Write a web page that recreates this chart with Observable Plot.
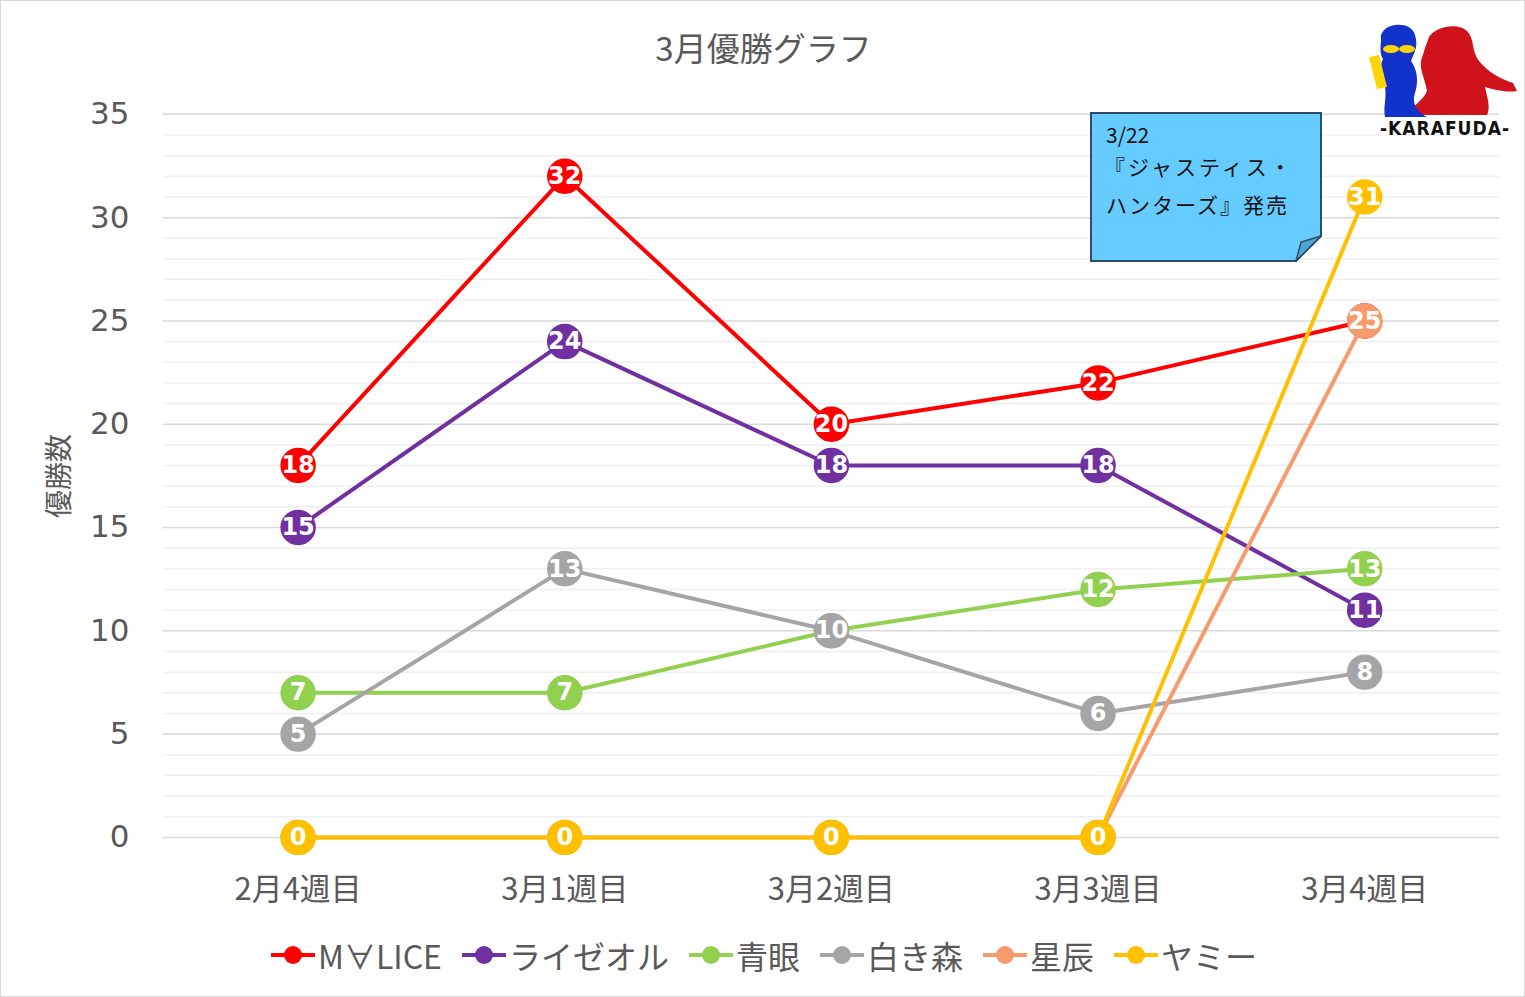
<!DOCTYPE html>
<html>
<head>
<meta charset="utf-8">
<script src="https://cdn.jsdelivr.net/npm/d3@7"></script>
<script src="https://cdn.jsdelivr.net/npm/@observablehq/plot@0.6"></script>
<style>
  html, body { margin: 0; padding: 0; background: #fff; }
  #wrap { position: relative; width: 1525px; height: 997px; box-sizing: border-box; border: 1px solid #d9d9d9; overflow: hidden; font-family: "Noto Sans CJK JP", "DejaVu Sans", sans-serif; color: #595959; }
  #chart { position: absolute; left: 0px; top: -1px; }
  #title { position: absolute; left: 0; width: 1525px; top: 22px; text-align: center; font-size: 33px; color: #595959; }
  #ylabel { position: absolute; left: 56px; top: 475px; transform: translate(-50%, -50%) rotate(-90deg); font-size: 28px; white-space: nowrap; }
  #legend { position: absolute; left: 0; width: 1525px; top: 931px; display: flex; justify-content: center; gap: 19px; font-size: 32px; }
  .li { display: flex; align-items: center; gap: 2px; }
  .li svg { display: block; }
  #note { position: absolute; left: 1089px; top: 111px; width: 232px; height: 150px; }
  #note .t { position: absolute; left: 16px; font-size: 21px; color: #111; white-space: nowrap; }
  #logo { position: absolute; left: 1366px; top: 16px; width: 155px; height: 128px; }
</style>
</head>
<body>
<div id="wrap">
  <div id="chart"></div>
  <div id="title">3月優勝グラフ</div>
  <div id="ylabel">優勝数</div>
  <div id="note">
    <svg width="232" height="150" style="position:absolute;left:0;top:0">
      <path d="M1,1 H231 V124 L206,149 H1 Z" fill="#66ccff" stroke="#2e4d66" stroke-width="2"/>
      <path d="M206,149 L211,130 L231,124 Z" fill="#4fa3d6" stroke="#2e4d66" stroke-width="1.5"/>
    </svg>
    <div class="t" style="top:7px;">3/22</div>
    <div class="t" style="top:39px;left:14px;letter-spacing:3px;">『ジャスティス・</div>
    <div class="t" style="top:77px;letter-spacing:2px;">ハンターズ』発売</div>
  </div>
  <svg id="logo" viewBox="0 0 155 128">
    <path d="M62,20 C70,8 92,6 100,14 C108,22 104,34 112,44 C122,56 134,62 146,66 L150,74 C138,76 126,72 118,70 C120,80 124,90 120,98 L40,98 C46,88 56,84 60,74 C58,60 50,50 56,38 C58,30 60,26 62,20 Z" fill="#d0121b"/>
    <path d="M14,22 C12,6 44,2 48,18 C52,30 46,38 44,44 C50,52 52,64 48,76 C44,88 52,96 60,100 L18,100 C16,90 20,80 18,70 C14,60 12,50 16,42 C12,36 14,28 14,22 Z" fill="#1133cc"/>
    <ellipse cx="24" cy="32" rx="8" ry="4" fill="#ffd400"/>
    <ellipse cx="40" cy="32" rx="8" ry="4" fill="#ffd400"/>
    <path d="M2,40 L12,38 L20,70 L10,72 Z" fill="#ffd400"/>
    <text x="78" y="118" text-anchor="middle" font-family="DejaVu Sans Condensed, DejaVu Sans" font-weight="bold" font-size="19" fill="#111" letter-spacing="1">-KARAFUDA-</text>
  </svg>
  <div id="legend"></div>
</div>
<script>
const categories = ["2月4週目", "3月1週目", "3月2週目", "3月3週目", "3月4週目"];
const seriesNames = ["M∀LICE", "ライゼオル", "青眼", "白き森", "星辰", "ヤミー"];
const malice   = [18, 32, 20, 22, 25];
const raizeol  = [15, 24, 18, 18, 11];
const aoeme    = [7, 7, 10, 12, 13];
const shirokimori = [5, 13, 10, 6, 8];
const seishin  = [0, 0, 0, 0, 25];
const yami     = [0, 0, 0, 0, 31];
const seriesValues = [malice, raizeol, aoeme, shirokimori, seishin, yami];
const seriesColors = ["#ff0000", "#7030a0", "#92d050", "#a5a5a5", "#f79b6c", "#ffc000"];
const yTicks = [0, 5, 10, 15, 20, 25, 30, 35];
const minorTicks = d3.range(0, 36).filter(v => v % 5 !== 0);

const rows = seriesNames.map((name, i) =>
  categories.map((c, j) => ({series: name, cat: c, value: seriesValues[i][j], color: seriesColors[i]}))
);

const seriesMarks = rows.flatMap(data => [
  Plot.line(data, {x: "cat", y: "value", stroke: d => d.color, strokeWidth: 4}),
  Plot.dot(data, {x: "cat", y: "value", r: 17, fill: d => d.color, stroke: d => d.color}),
  Plot.text(data, {x: "cat", y: "value", text: d => String(d.value), fill: "white", fontWeight: "bold", fontSize: 24, fontFamily: "DejaVu Sans"})
]);

const chart = Plot.plot({
  width: 1525,
  height: 997,
  marginLeft: 162,
  marginRight: 25,
  marginTop: 114,
  marginBottom: 159,
  style: {color: "#595959", fontFamily: "'DejaVu Sans', 'Noto Sans CJK JP', sans-serif", background: "transparent"},
  x: {type: "point", domain: categories, padding: 0.5, align: 0.5},
  y: {domain: [0, 35]},
  marks: [
    Plot.ruleY(minorTicks, {stroke: "#efefef", strokeWidth: 1.5}),
    Plot.ruleY(yTicks, {stroke: "#d9d9d9", strokeWidth: 1.5}),
    Plot.axisY({ticks: yTicks, tickSize: 0, tickPadding: 34, fontSize: 31, label: null, fill: "#595959"}),
    Plot.axisX({tickSize: 0, tickPadding: 41, fontSize: 31, label: null, fill: "#595959", fontFamily: "'Noto Sans CJK JP', sans-serif"}),
    ...seriesMarks
  ]
});
document.getElementById("chart").appendChild(chart);

const legend = document.getElementById("legend");
seriesNames.forEach((name, i) => {
  const item = document.createElement("div");
  item.className = "li";
  item.innerHTML = `<svg width="46" height="24"><line x1="1" x2="45" y1="12" y2="12" stroke="${seriesColors[i]}" stroke-width="4"/><circle cx="23" cy="12" r="9" fill="${seriesColors[i]}"/></svg><span>${name}</span>`;
  legend.appendChild(item);
});
</script>
</body>
</html>
